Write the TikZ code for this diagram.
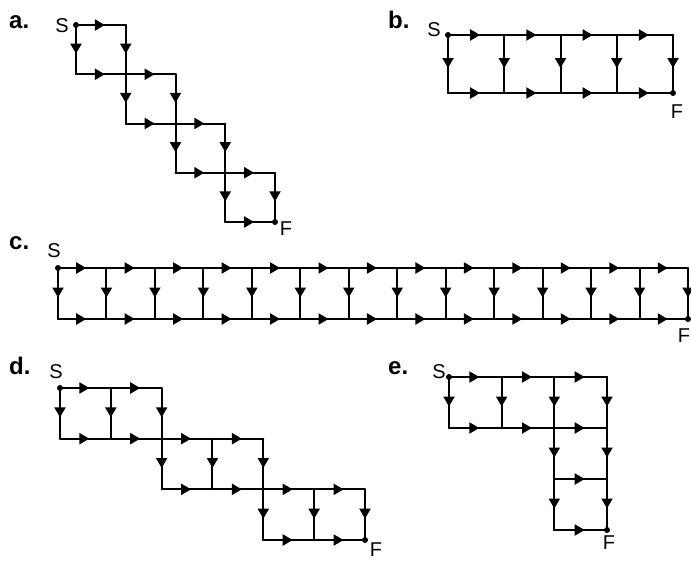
\documentclass[tikz,border=0pt]{standalone}
\usepackage{fontspec}
\setmainfont{Liberation Sans}
\usetikzlibrary{decorations.markings,arrows.meta}
\tikzset{
  edge/.style={line width=2pt, line cap=round, postaction={decorate},
    decoration={markings, mark=at position 0.5 with {\arrow[xshift=4pt]{Triangle[length=10pt,width=11pt]}}}},
  dotnode/.style={circle, fill=black, inner sep=0pt, minimum size=6pt},
  panellabel/.style={font=\bfseries\fontsize{24}{24}\selectfont, inner sep=0pt, anchor=base west},
  hand/.style={font=\fontsize{20}{20}\selectfont, inner sep=0pt},
}
\begin{document}
\begin{tikzpicture}[x=1pt,y=-1pt]
\useasboundingbox (0,0) rectangle (691,560);
% ---------- panel a ----------
\node[panellabel] (la) at (9,28) {a.};
\foreach \i in {0,...,4}
  \foreach \j in {0,...,4}
    \coordinate (a-\i-\j) at ({76+49.75*\i},{25+49.25*\j});
\foreach \k in {0,...,3}{
  \pgfmathtruncatemacro\kk{\k+1}
  \draw[edge] (a-\k-\k) -- (a-\kk-\k);
  \draw[edge] (a-\k-\k) -- (a-\k-\kk);
  \draw[edge] (a-\kk-\k) -- (a-\kk-\kk);
  \draw[edge] (a-\k-\kk) -- (a-\kk-\kk);
}
\node[dotnode] (aSdot) at (a-0-0) {};
\node[dotnode] (aFdot) at (a-4-4) {};
\node[hand] (aS) at (62,26) {S};
\node[hand] (aF) at (286,229) {F};
% ---------- panel b ----------
\node[panellabel] (lb) at (388,28) {b.};
\foreach \i in {0,...,4}{
  \coordinate (b-\i-0) at ({448+56.25*\i},35);
  \coordinate (b-\i-1) at ({448+56.25*\i},93);
}
\foreach \i in {0,...,4}
  \draw[edge] (b-\i-0) -- (b-\i-1);
\foreach \i in {0,...,3}{
  \pgfmathtruncatemacro\ii{\i+1}
  \draw[edge] (b-\i-0) -- (b-\ii-0);
  \draw[edge] (b-\i-1) -- (b-\ii-1);
}
\node[dotnode] (bSdot) at (b-0-0) {};
\node[dotnode] (bFdot) at (b-4-1) {};
\node[hand] (bS) at (434,30) {S};
\node[hand] (bF) at (677,112) {F};
% ---------- panel c ----------
\node[panellabel] (lc) at (9,249) {c.};
\foreach \i in {0,...,13}{
  \coordinate (c-\i-0) at ({58+48.46*\i},268);
  \coordinate (c-\i-1) at ({58+48.46*\i},319);
}
\foreach \i in {0,...,13}
  \draw[edge] (c-\i-0) -- (c-\i-1);
\foreach \i in {0,...,12}{
  \pgfmathtruncatemacro\ii{\i+1}
  \draw[edge] (c-\i-0) -- (c-\ii-0);
  \draw[edge] (c-\i-1) -- (c-\ii-1);
}
\node[dotnode] (cSdot) at (c-0-0) {};
\node[dotnode] (cFdot) at (c-13-1) {};
\node[hand] (cS) at (54,251) {S};
\node[hand] (cF) at (684,336) {F};
% ---------- panel d ----------
\node[panellabel] (ld) at (9,374) {d.};
\foreach \i in {0,...,6}
  \foreach \j in {0,...,3}
    \coordinate (d-\i-\j) at ({60+50.83*\i},{388+50.67*\j});
\foreach \k in {0,...,2}{
  \pgfmathtruncatemacro\ka{2*\k}
  \pgfmathtruncatemacro\kb{2*\k+1}
  \pgfmathtruncatemacro\kc{2*\k+2}
  \pgfmathtruncatemacro\kd{\k+1}
  \draw[edge] (d-\ka-\k) -- (d-\kb-\k);
  \draw[edge] (d-\kb-\k) -- (d-\kc-\k);
  \draw[edge] (d-\ka-\kd) -- (d-\kb-\kd);
  \draw[edge] (d-\kb-\kd) -- (d-\kc-\kd);
  \draw[edge] (d-\ka-\k) -- (d-\ka-\kd);
  \draw[edge] (d-\kb-\k) -- (d-\kb-\kd);
  \draw[edge] (d-\kc-\k) -- (d-\kc-\kd);
}
\node[dotnode] (dSdot) at (d-0-0) {};
\node[dotnode] (dFdot) at (d-6-3) {};
\node[hand] (dS) at (56,372) {S};
\node[hand] (dF) at (376,550) {F};
% ---------- panel e ----------
\node[panellabel] (le) at (388,374) {e.};
\foreach \i in {0,...,3}
  \foreach \j in {0,...,3}
    \coordinate (e-\i-\j) at ({449+52.67*\i},{377+51*\j});
\foreach \i in {0,...,2}{
  \pgfmathtruncatemacro\ii{\i+1}
  \draw[edge] (e-\i-0) -- (e-\ii-0);
  \draw[edge] (e-\i-1) -- (e-\ii-1);
}
\foreach \i in {0,...,3}
  \draw[edge] (e-\i-0) -- (e-\i-1);
\foreach \j in {1,2}{
  \pgfmathtruncatemacro\jj{\j+1}
  \draw[edge] (e-2-\j) -- (e-2-\jj);
  \draw[edge] (e-3-\j) -- (e-3-\jj);
  \draw[edge] (e-2-\jj) -- (e-3-\jj);
}
\node[dotnode] (eSdot) at (e-0-0) {};
\node[dotnode] (eFdot) at (e-3-3) {};
\node[hand] (eS) at (439,372) {S};
\node[hand] (eF) at (609,543) {F};
\end{tikzpicture}
\end{document}
